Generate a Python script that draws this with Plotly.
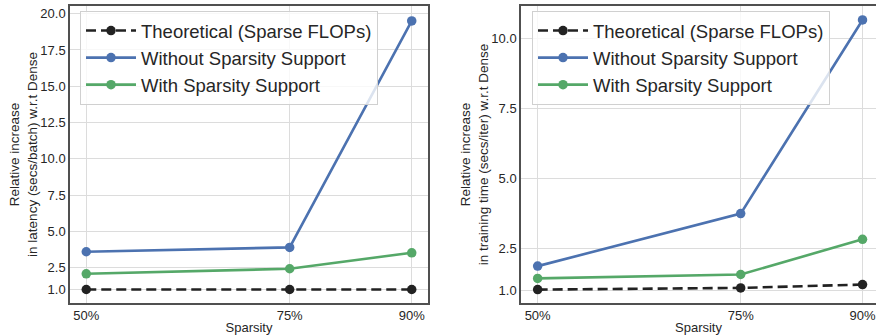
import plotly.graph_objects as go

sparsity = [50, 75, 90]
sparsity_labels = ["50%", "75%", "90%"]

series_names = ["Theoretical (Sparse FLOPs)", "Without Sparsity Support", "With Sparsity Support"]

latency_theoretical = [1.0, 1.0, 1.0]
latency_without = [3.6, 3.9, 19.5]
latency_with = [2.08, 2.43, 3.53]

train_theoretical = [1.02, 1.08, 1.2]
train_without = [1.86, 3.74, 10.67]
train_with = [1.42, 1.56, 2.82]

latency_ticks = [1.0, 2.5, 5.0, 7.5, 10.0, 12.5, 15.0, 17.5, 20.0]
train_ticks = [1.0, 2.5, 5.0, 7.5, 10.0]

colors = ["#222222", "#4C72B0", "#55A868"]
dashes = ["10px,5px", "solid", "solid"]

FONT = "Liberation Sans, Arial, sans-serif"
TXT = "#262626"
GRID = "#dcdcdc"
FRAME = "#505050"

fig = go.Figure()

for data, xa, ya, lg in [
    ([latency_theoretical, latency_without, latency_with], "x", "y", "legend"),
    ([train_theoretical, train_without, train_with], "x2", "y2", "legend2"),
]:
    for name, vals, c, d in zip(series_names, data, colors, dashes):
        fig.add_trace(go.Scatter(
            x=sparsity, y=vals, name=name, mode="lines+markers",
            line=dict(color=c, width=2.6, dash=d),
            marker=dict(color=c, size=9.5),
            xaxis=xa, yaxis=ya, legend=lg,
        ))

L, R, T, B = 70, 0, 6, 32
W, H = 876, 335
pw = W - L - R

axis_common = dict(
    showgrid=True, gridcolor=GRID, gridwidth=1, zeroline=False,
    showline=True, linecolor=FRAME, linewidth=1.5,
    ticks="", tickfont=dict(family=FONT, size=13, color=TXT),
)

legend_common = dict(
    font=dict(family=FONT, size=18.5, color=TXT),
    bgcolor="rgba(255,255,255,0.8)", bordercolor="#d0d0d0", borderwidth=1,
    xanchor="left", yanchor="top", tracegroupgap=0, itemwidth=50,
)

xtitle = dict(text="Sparsity", font=dict(family=FONT, size=13, color=TXT), standoff=1)

fig.update_layout(
    width=W, height=H,
    margin=dict(l=L, r=R, t=T, b=B, autoexpand=False),
    paper_bgcolor="white", plot_bgcolor="white",
    font=dict(family=FONT, color=TXT),
    xaxis=dict(axis_common, domain=[0, 358 / pw], range=[48, 92],
               tickvals=sparsity, ticktext=sparsity_labels, mirror=True, title=xtitle),
    yaxis=dict(axis_common, range=[0.07, 20.53], tickvals=latency_ticks,
               ticktext=[f"{v:.1f}" for v in latency_ticks], mirror=True,
               title=dict(text="Relative increase<br>in latency (secs/batch) w.r.t Dense",
                          font=dict(family=FONT, size=13.5, color=TXT), standoff=0)),
    xaxis2=dict(axis_common, domain=[451 / pw, 1], range=[47.95, 91.66], anchor="y2",
                tickvals=sparsity, ticktext=sparsity_labels, mirror=True, title=xtitle),
    yaxis2=dict(axis_common, range=[0.54, 11.17], anchor="x2", tickvals=train_ticks,
                ticktext=[f"{v:.1f}" for v in train_ticks], mirror=False,
                title=dict(text="Relative increase<br>in training time (secs/iter) w.r.t Dense",
                           font=dict(family=FONT, size=13.5, color=TXT), standoff=0)),
    legend=dict(legend_common, x=10 / pw, y=(303 - 11) / 297),
    legend2=dict(legend_common, x=(532 - L) / pw, y=(303 - 11) / 297),
)

fig.write_html("out.html", config={"displayModeBar": False},
               post_script="document.body.style.margin='0';")
